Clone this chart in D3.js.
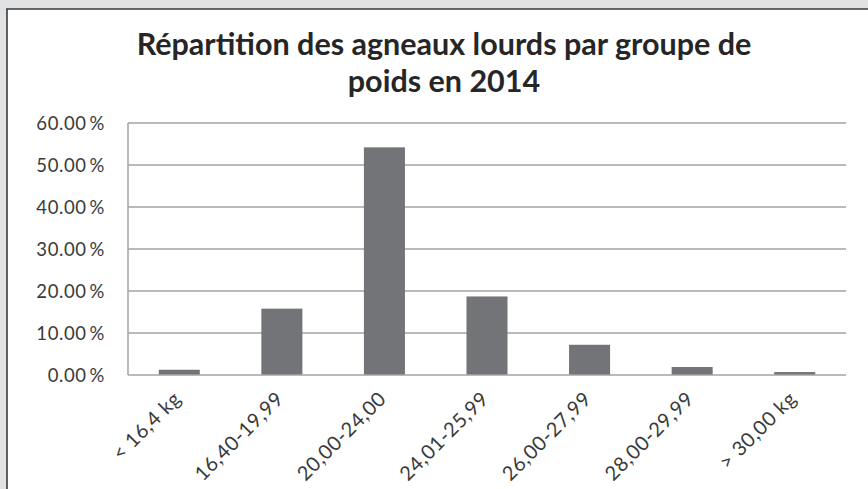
<!DOCTYPE html>
<html>
<head>
<meta charset="utf-8">
<script src="https://cdn.jsdelivr.net/npm/d3@7"></script>
<style>
  html, body { margin: 0; padding: 0; background: #e1e2e4; }
  svg { display: block; }
</style>
</head>
<body>
<svg id="chart" width="868" height="489"></svg>
<script>
const categories = ["< 16,4 kg", "16,40-19,99", "20,00-24,00", "24,01-25,99", "26,00-27,99", "28,00-29,99", "> 30,00 kg"];
const values = [0.0125, 0.158, 0.542, 0.187, 0.072, 0.019, 0.007];
const yTicks = [0, 0.1, 0.2, 0.3, 0.4, 0.5, 0.6];
const titleLines = ["Répartition des agneaux lourds par groupe de", "poids en 2014"];

const svg = d3.select("#chart");
const W = 868, H = 489;

// frame
svg.append("rect").attr("x", 0).attr("y", 0).attr("width", W).attr("height", H).attr("fill", "#e1e2e4");
svg.append("rect").attr("x", 7).attr("y", 9).attr("width", W - 7).attr("height", H - 9).attr("fill", "#ffffff");
svg.append("line").attr("x1", 7).attr("x2", 7).attr("y1", 8.5).attr("y2", H).attr("stroke", "#3a3a3a").attr("stroke-width", 1.6);
svg.append("line").attr("x1", 6.5).attr("x2", W).attr("y1", 9).attr("y2", 9).attr("stroke", "#3a3a3a").attr("stroke-width", 1.6);

const plotLeft = 128, plotRight = 846, plotTop = 123, plotBottom = 375;

const x = d3.scaleBand().domain(categories).range([plotLeft, plotRight]).paddingInner(0.6).paddingOuter(0.3);
const y = d3.scaleLinear().domain([0, 0.6]).range([plotBottom, plotTop]);

// gridlines
svg.append("g").selectAll("line").data(yTicks.filter(d => d > 0)).join("line")
  .attr("x1", plotLeft).attr("x2", plotRight)
  .attr("y1", d => y(d)).attr("y2", d => y(d))
  .attr("stroke", "#a2a3a6").attr("stroke-width", 1.5);

// y axis line
svg.append("line").attr("x1", plotLeft).attr("x2", plotLeft).attr("y1", plotTop).attr("y2", plotBottom)
  .attr("stroke", "#a2a3a6").attr("stroke-width", 1.5);

// bars
svg.append("g").selectAll("rect").data(values).join("rect")
  .attr("x", (d, i) => x(categories[i]))
  .attr("width", x.bandwidth())
  .attr("y", d => y(d))
  .attr("height", d => y(0) - y(d))
  .attr("fill", "#737478");

// x axis line
svg.append("line").attr("x1", plotLeft).attr("x2", plotRight).attr("y1", plotBottom).attr("y2", plotBottom)
  .attr("stroke", "#a2a3a6").attr("stroke-width", 1.5);

// y labels
const fmt = d => d3.format(".2f")(d * 100) + "\u2009%";
svg.append("g").selectAll("text").data(yTicks).join("text")
  .attr("x", 105).attr("y", d => y(d))
  .attr("dy", "0.36em")
  .attr("text-anchor", "end")
  .attr("font-family", "Lato, 'Open Sans', sans-serif")
  .attr("font-size", 18.5)
  .attr("letter-spacing", "0.6px")
  .attr("fill", "#3a3a3a")
  .text(fmt);

// x labels
svg.append("g").selectAll("text").data(categories).join("text")
  .attr("transform", d => `translate(${x(d) + x.bandwidth() / 2 + 3},${plotBottom + 25}) rotate(-45)`)
  .attr("text-anchor", "end")
  .attr("font-family", "Lato, 'Open Sans', sans-serif")
  .attr("font-size", 20)
  .attr("letter-spacing", "0.6px")
  .attr("fill", "#3a3a3a")
  .text(d => d);

// title
const title = svg.append("g");
title.selectAll("text").data(titleLines).join("text")
  .attr("x", 444).attr("y", (d, i) => 55 + i * 37)
  .attr("text-anchor", "middle")
  .attr("font-family", "Lato, 'Open Sans', sans-serif")
  .attr("font-weight", "bold")
  .attr("font-size", 30.5)
  .attr("fill", "#262626")
  .text(d => d);
</script>
</body>
</html>
